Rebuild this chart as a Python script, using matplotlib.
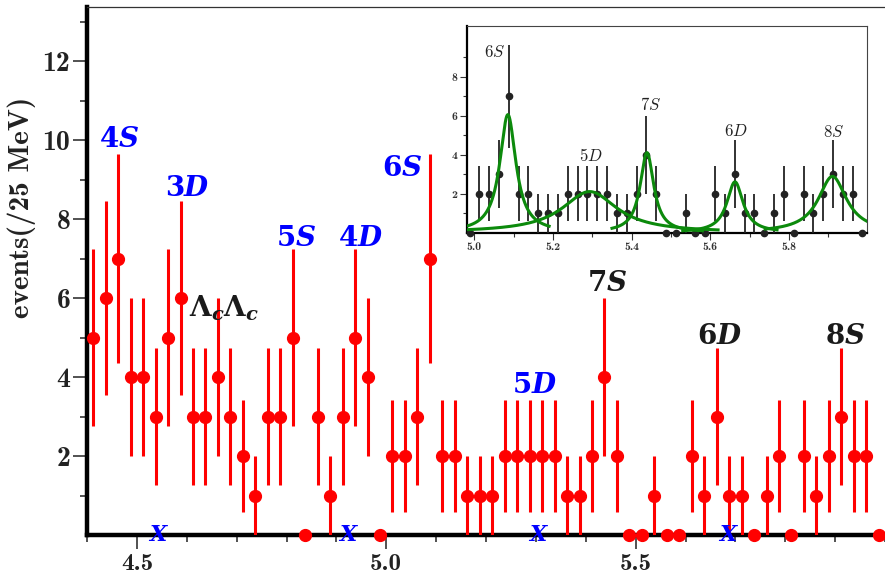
import numpy as np
import matplotlib.pyplot as plt
from matplotlib.ticker import FixedLocator, MultipleLocator, FormatStrFormatter

plt.rcParams['mathtext.fontset'] = 'custom'
plt.rcParams['mathtext.rm'] = 'DejaVu Serif:bold'
plt.rcParams['mathtext.it'] = 'DejaVu Serif:italic:bold'
plt.rcParams['mathtext.bf'] = 'DejaVu Serif:bold'

# Lambda_c Lambda_c mass spectrum, 25 MeV bins from 4.4 GeV
bin_start = 4.4
bin_width = 0.025
counts = [5, 6, 7, 4, 4, 3, 5, 6, 3, 3,
          4, 3, 2, 1, 3, 3, 5, 0, 3, 1,
          3, 5, 4, 0, 2, 2, 3, 7, 2, 2,
          1, 1, 1, 2, 2, 2, 2, 2, 1, 1,
          2, 4, 2, 0, 0, 1, 0, 0, 2, 1,
          3, 1, 1, 0, 1, 2, 0, 2, 1, 2,
          3, 2, 2, 0]

# state labels in the main panel
blue_labels = ['4S', '3D', '5S', '4D', '6S', '5D']
blue_x = [4.464, 4.600, 4.819, 4.949, 5.031, 5.298]
blue_y = [10.03, 8.78, 7.52, 7.52, 9.29, 3.80]
black_labels = ['7S', '6D', '8S']
black_x = [5.442, 5.669, 5.921]
black_y = [6.38, 5.04, 5.04]
x_marks = [4.544, 4.925, 5.306, 5.687]

# inset: Breit-Wigner peaks
fit_names = ['6S', '5D', '7S', '6D', '8S']
fit_mass = [5.085, 5.293, 5.439, 5.663, 5.911]
fit_gamma = [0.05, 0.17, 0.042, 0.05, 0.088]
fit_height = [6.05, 2.1, 4.1, 2.6, 2.88]
fit_lo = [4.98, 4.98, 5.35, 5.53, 5.74]
fit_hi = [5.19, 5.62, 5.58, 5.77, 6.0]
inset_label_x = [5.05, 5.297, 5.447, 5.664, 5.913]
inset_label_y = [9.25, 3.94, 6.57, 5.19, 5.15]

counts = np.array(counts)
mass = bin_start + bin_width * (np.arange(len(counts)) + 0.5)
err = np.sqrt(counts)

fig = plt.figure(figsize=(8.85, 5.75), dpi=100)
ax = fig.add_axes([87/885, 40/575, 798/885, 528.5/575])

eb = ax.errorbar(mass, counts, yerr=err, fmt='o', color='#ff0000', ms=8.5,
                 elinewidth=2.2, capsize=0, zorder=3)
eb[0].set_clip_on(False)

ax.set_xlim(4.4, 6.0)
ax.set_ylim(0, 13.38)

for s in ['left', 'bottom']:
    ax.spines[s].set_linewidth(3.2)
    ax.spines[s].set_color('black')
ax.spines['top'].set_linewidth(0.9)
ax.spines['top'].set_color('#333333')
ax.spines['right'].set_visible(False)

ax.xaxis.set_major_locator(FixedLocator([4.5, 5.0, 5.5]))
ax.xaxis.set_minor_locator(MultipleLocator(0.1))
ax.xaxis.set_major_formatter(FormatStrFormatter('%.1f'))
ax.yaxis.set_major_locator(FixedLocator([2, 4, 6, 8, 10, 12]))
ax.yaxis.set_minor_locator(FixedLocator([1, 3, 5, 7, 9, 11, 13]))
ax.tick_params(which='major', direction='out', length=10, width=1.1,
               colors='#222222', labelfontfamily='cmb10')
ax.tick_params(which='minor', direction='out', length=5, width=1.1, colors='#222222')
ax.tick_params(axis='x', which='major', pad=3, labelsize=18)
ax.tick_params(axis='y', which='major', pad=2, labelsize=20)

fig.text(22/885, 1 - 207/575, 'events(/25 MeV)', rotation=90, family='cmb10',
         fontsize=21, ha='center', va='center', color='#222222')

for lab, x, y in zip(blue_labels, blue_x, blue_y):
    ax.text(x, y, '$' + lab + '$', color='#0000ff', fontsize=20, ha='center', va='center')
for lab, x, y in zip(black_labels, black_x, black_y):
    ax.text(x, y, '$' + lab + '$', color='#1a1a1a', fontsize=20, ha='center', va='center')
ax.text(4.675, 5.52, r'$\Lambda_c\Lambda_c$', color='#1a1a1a', fontsize=20,
        ha='center', va='baseline')
for x in x_marks:
    ax.text(x, 0, '$X$', color='#0000ff', fontsize=16, ha='center', va='center',
            zorder=5, clip_on=False)

# inset
axi = fig.add_axes([467/885, (575 - 232.5)/575, 400/885, 206.5/575])
axi.set_facecolor('white')
sel = mass > 4.98
ebi = axi.errorbar(mass[sel], counts[sel], yerr=err[sel], fmt='o', color='#222222',
                   ms=4.5, elinewidth=1.3, capsize=0, zorder=3)
ebi[0].set_clip_on(False)

for m, g, h, lo, hi in zip(fit_mass, fit_gamma, fit_height, fit_lo, fit_hi):
    xx = np.linspace(lo, hi, 300)
    yy = h / (1 + 4 * ((xx - m) / g) ** 2)
    axi.plot(xx, yy, color='#0c8a0c', lw=2.2, zorder=4)

for lab, x, y in zip(fit_names, inset_label_x, inset_label_y):
    axi.text(x, y, '$' + lab + '$', color='#222222', fontsize=12, ha='center',
             va='center', math_fontfamily='cm')

axi.set_xlim(4.981, 5.999)
axi.set_ylim(0, 10.6)
for s in ['left', 'bottom']:
    axi.spines[s].set_linewidth(1.6)
    axi.spines[s].set_color('black')
for s in ['top', 'right']:
    axi.spines[s].set_linewidth(0.8)
    axi.spines[s].set_color('#444444')
axi.xaxis.set_major_locator(FixedLocator([5.0, 5.2, 5.4, 5.6, 5.8]))
axi.xaxis.set_minor_locator(FixedLocator([5.1, 5.3, 5.5, 5.7, 5.9]))
axi.xaxis.set_major_formatter(FormatStrFormatter('%.1f'))
axi.yaxis.set_major_locator(FixedLocator([2, 4, 6, 8]))
axi.yaxis.set_minor_locator(FixedLocator([1, 3, 5, 7, 9]))
axi.tick_params(which='major', direction='out', length=5, width=0.8, colors='#333333',
                labelsize=8.5, labelfontfamily='cmb10', pad=2)
axi.tick_params(which='minor', direction='out', length=3, width=0.8, colors='#333333')

fig.savefig('out.png', dpi=100)
